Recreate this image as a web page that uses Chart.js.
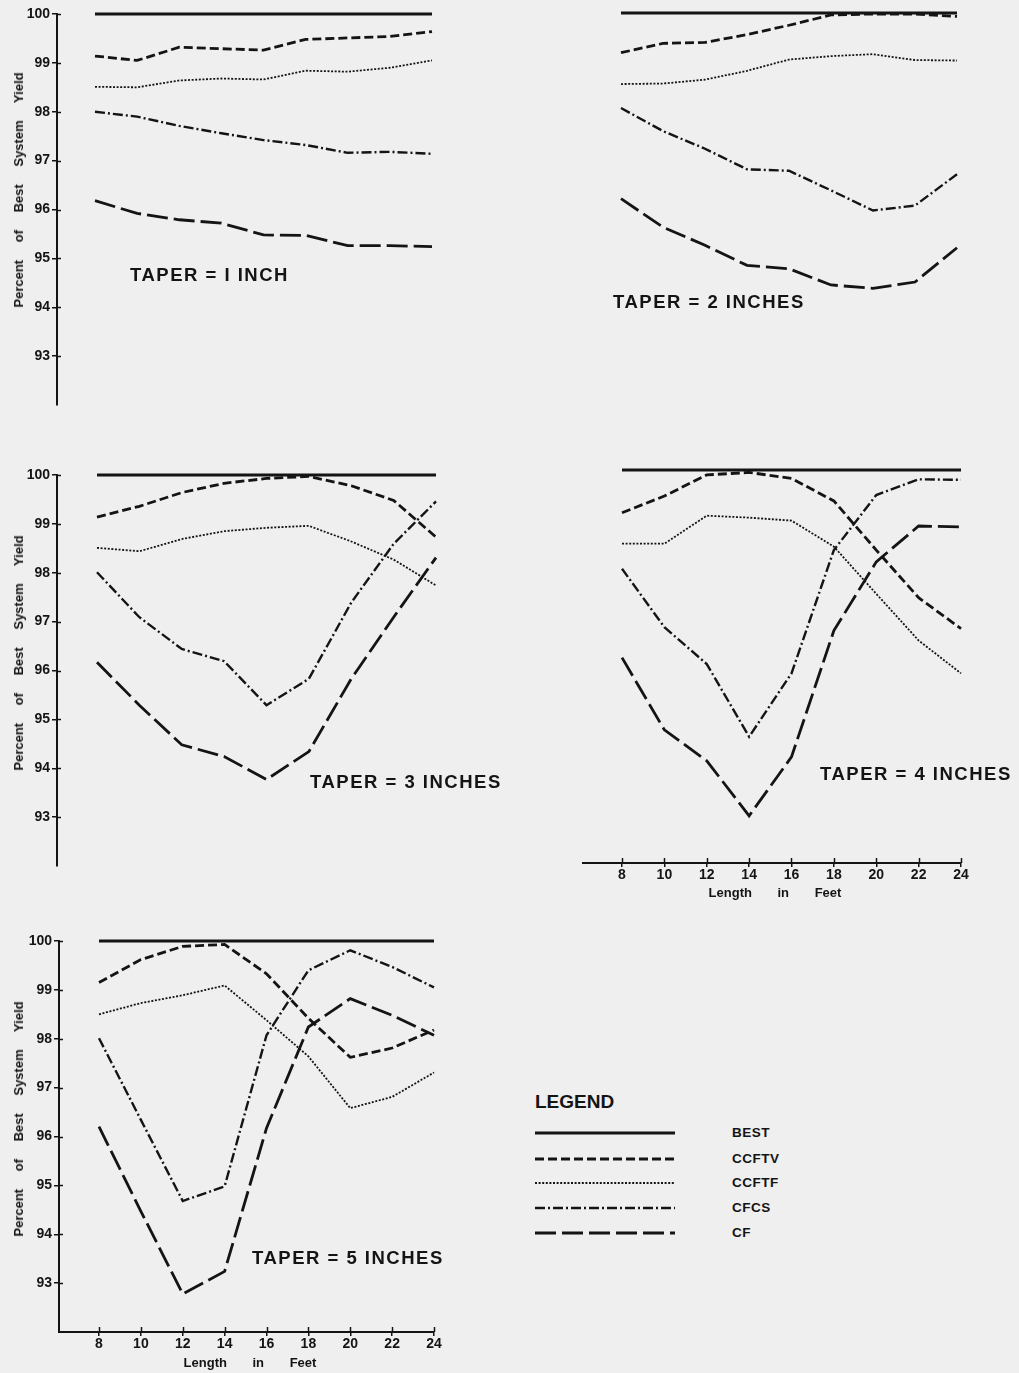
<!DOCTYPE html>
<html>
<head>
<meta charset="utf-8">
<script src="https://cdn.jsdelivr.net/npm/chart.js@4/dist/chart.umd.min.js"></script>
<style>
html,body{margin:0;padding:0;background:#efefef;}
body{width:1019px;height:1373px;position:relative;overflow:hidden;font-family:"Liberation Sans",Arial,sans-serif;font-weight:bold;color:#141414;}
canvas{position:absolute;}
.taper{position:absolute;font-size:18.5px;line-height:20px;letter-spacing:1.5px;white-space:nowrap;}
.ytitle{position:absolute;font-size:13px;line-height:14px;word-spacing:14px;white-space:nowrap;transform:translate(-50%,-50%) rotate(-90deg);}
.xtitle{position:absolute;font-size:13px;line-height:14px;word-spacing:22px;white-space:nowrap;transform:translate(-50%,-50%);}
.legtitle{position:absolute;font-size:19px;line-height:20px;white-space:nowrap;}
.leglab{position:absolute;font-size:13.5px;line-height:14px;letter-spacing:0.5px;white-space:nowrap;transform:translateY(-50%);}
svg{position:absolute;}
</style>
</head>
<body>
<script>
// ---------- DATA ----------
const lengths = [8, 10, 12, 14, 16, 18, 20, 22, 24];
const xTickValues = [8, 10, 12, 14, 16, 18, 20, 22, 24];
const yTickValues = [93, 94, 95, 96, 97, 98, 99, 100];
const seriesNames = ['BEST', 'CCFTV', 'CCFTF', 'CFCS', 'CF'];
const taperLabels = ['TAPER = I INCH', 'TAPER = 2 INCHES', 'TAPER = 3 INCHES', 'TAPER = 4 INCHES', 'TAPER = 5 INCHES'];
const yAxisTitle = 'Percent of Best System Yield';
const xAxisTitle = 'Length in Feet';
const legendTitle = 'LEGEND';

const best = [100, 100, 100, 100, 100, 100, 100, 100, 100];

const t1_ccftv = [99.14, 99.05, 99.32, 99.29, 99.26, 99.48, 99.51, 99.54, 99.64];
const t1_ccftf = [98.51, 98.50, 98.64, 98.68, 98.66, 98.84, 98.82, 98.90, 99.05];
const t1_cfcs  = [98.00, 97.90, 97.71, 97.56, 97.42, 97.32, 97.16, 97.18, 97.14];
const t1_cf    = [96.18, 95.92, 95.79, 95.72, 95.48, 95.47, 95.26, 95.26, 95.24];

const t2_ccftv = [99.19, 99.38, 99.40, 99.56, 99.75, 99.96, 99.98, 99.98, 99.93];
const t2_ccftf = [98.55, 98.56, 98.64, 98.82, 99.05, 99.12, 99.16, 99.04, 99.03];
const t2_cfcs  = [98.06, 97.59, 97.23, 96.81, 96.78, 96.38, 95.97, 96.07, 96.71];
const t2_cf    = [96.21, 95.63, 95.26, 94.85, 94.78, 94.45, 94.38, 94.51, 95.21];

const t3_ccftv = [99.14, 99.36, 99.64, 99.83, 99.93, 99.97, 99.78, 99.48, 98.73];
const t3_ccftf = [98.51, 98.44, 98.69, 98.85, 98.92, 98.96, 98.64, 98.27, 97.74];
const t3_cfcs  = [98.01, 97.09, 96.44, 96.19, 95.29, 95.83, 97.39, 98.59, 99.46];
const t3_cf    = [96.17, 95.29, 94.48, 94.24, 93.77, 94.34, 95.83, 97.09, 98.31];

const t4_ccftv = [99.13, 99.47, 99.90, 99.95, 99.83, 99.37, 98.37, 97.40, 96.77];
const t4_ccftf = [98.50, 98.50, 99.07, 99.03, 98.97, 98.44, 97.48, 96.53, 95.86];
const t4_cfcs  = [97.99, 96.80, 96.05, 94.57, 95.86, 98.37, 99.49, 99.81, 99.80];
const t4_cf    = [96.18, 94.71, 94.08, 92.96, 94.16, 96.73, 98.13, 98.86, 98.84];

const t5_ccftv = [99.15, 99.62, 99.89, 99.93, 99.33, 98.42, 97.62, 97.81, 98.18];
const t5_ccftf = [98.50, 98.73, 98.89, 99.09, 98.38, 97.64, 96.58, 96.81, 97.31];
const t5_cfcs  = [98.01, 96.34, 94.68, 94.98, 98.07, 99.40, 99.81, 99.47, 99.05];
const t5_cf    = [96.20, 94.47, 92.78, 93.24, 96.17, 98.24, 98.82, 98.48, 98.07];

// ---------- STYLE / LAYOUT ----------
const INK = '#141414';
const styles = {
  BEST:  {dash: [],            w: 2.8},
  CCFTV: {dash: [9, 4],        w: 2.8},
  CCFTF: {dash: [2, 1.6],      w: 1.8},
  CFCS:  {dash: [10, 3, 2, 3], w: 2.4},
  CF:    {dash: [21, 6],       w: 2.8}
};

const panels = [
  {series: [best, t1_ccftv, t1_ccftf, t1_cfcs, t1_cf], axisX: 57, px8: 95,  px24: 432, yTop: 14,  yBot: 405,  showY: true,  showX: false,
   label: {x: 130, y: 265}, ytitle: 190},
  {series: [best, t2_ccftv, t2_ccftf, t2_cfcs, t2_cf], axisX: 583, px8: 621, px24: 957, yTop: 13,  yBot: 405,  showY: false, showX: false,
   label: {x: 613, y: 292}},
  {series: [best, t3_ccftv, t3_ccftf, t3_cfcs, t3_cf], axisX: 57, px8: 97,  px24: 436, yTop: 475, yBot: 866,  showY: true,  showX: false,
   label: {x: 310, y: 772}, ytitle: 653},
  {series: [best, t4_ccftv, t4_ccftf, t4_cfcs, t4_cf], axisX: 583, px8: 622, px24: 961, yTop: 470, yBot: 863,  showY: false, showX: true,
   label: {x: 820, y: 764}, xtitle: {x: 775, y: 893}},
  {series: [best, t5_ccftv, t5_ccftf, t5_cfcs, t5_cf], axisX: 59, px8: 99,  px24: 434, yTop: 941, yBot: 1332, showY: true,  showX: true,
   label: {x: 252, y: 1248}, ytitle: 1119, xtitle: {x: 250, y: 1363}}
];

const tickFont = {family: 'Liberation Sans', weight: 'bold', size: 14};

// tick marks that also reach a little inside the axis (as in the drawing)
const innerTicks = {
  id: 'innerTicks',
  afterDraw(chart) {
    const ctx = chart.ctx;
    ctx.save();
    ctx.strokeStyle = INK;
    ctx.lineWidth = 1.5;
    const xs = chart.scales.x, ys = chart.scales.y;
    if (ys.options.display) {
      ys.ticks.forEach(t => {
        const py = Math.round(ys.getPixelForValue(t.value)) + 0.5;
        ctx.beginPath(); ctx.moveTo(chart.chartArea.left, py); ctx.lineTo(chart.chartArea.left + 4, py); ctx.stroke();
      });
    }
    if (xs.options.display) {
      xs.ticks.forEach(t => {
        const px = Math.round(xs.getPixelForValue(t.value)) + 0.5;
        ctx.beginPath(); ctx.moveTo(px, chart.chartArea.bottom); ctx.lineTo(px, chart.chartArea.bottom - 5); ctx.stroke();
      });
    }
    ctx.restore();
  }
};

function addDiv(cls, text, css) {
  const d = document.createElement('div');
  d.className = cls;
  d.textContent = text;
  Object.assign(d.style, css);
  document.body.appendChild(d);
  return d;
}

function makePanel(p, idx) {
  const YW = p.showY ? 55 : 0;
  const XH = p.showX ? 28 : 0;
  const PAD = 12;
  const padL = p.showY ? 0 : PAD;
  const padB = p.showX ? 0 : PAD;
  const cv = document.createElement('canvas');
  const left = p.axisX - YW - padL;
  const top = p.yTop - PAD;
  const w = (p.px24 - p.axisX) + YW + padL + PAD;
  const h = (p.yBot - p.yTop) + PAD + XH + padB;
  cv.width = w; cv.height = h;
  cv.style.left = left + 'px'; cv.style.top = top + 'px';
  cv.style.width = w + 'px'; cv.style.height = h + 'px';
  document.body.appendChild(cv);
  const xmin = 8 - (p.px8 - p.axisX) * 16 / (p.px24 - p.px8);

  new Chart(cv, {
    type: 'line',
    data: {
      datasets: seriesNames.map((n, i) => ({
        label: n,
        data: lengths.map((L, j) => ({x: L, y: p.series[i][j]})),
        borderColor: INK,
        borderWidth: styles[n].w,
        borderDash: styles[n].dash,
        borderCapStyle: 'butt',
        pointRadius: 0,
        tension: 0,
        fill: false,
        clip: false
      }))
    },
    plugins: [innerTicks],
    options: {
      responsive: false,
      animation: false,
      devicePixelRatio: 1,
      layout: {padding: {left: padL, top: PAD, right: PAD, bottom: padB}},
      plugins: {legend: {display: false}, tooltip: {enabled: false}},
      scales: {
        x: {
          type: 'linear', min: xmin, max: 24, display: p.showX,
          afterBuildTicks: s => { s.ticks = xTickValues.map(v => ({value: v})); },
          afterFit: s => { s.height = XH; },
          grid: {drawOnChartArea: false, drawTicks: true, tickLength: 4, color: INK, lineWidth: 1.5},
          border: {color: INK, width: 2},
          ticks: {color: INK, font: tickFont, padding: 0, maxRotation: 0, autoSkip: false}
        },
        y: {
          type: 'linear', min: 92, max: 100, display: p.showY,
          afterBuildTicks: s => { s.ticks = yTickValues.map(v => ({value: v})); },
          afterFit: s => { s.width = YW; },
          grid: {drawOnChartArea: false, drawTicks: true, tickLength: 5, color: INK, lineWidth: 1.5},
          border: {color: INK, width: 2},
          ticks: {color: INK, font: tickFont, padding: 2, autoSkip: false}
        }
      }
    }
  });

  addDiv('taper', taperLabels[idx], {left: p.label.x + 'px', top: p.label.y + 'px'});
  if (p.ytitle) addDiv('ytitle', yAxisTitle, {left: '19px', top: p.ytitle + 'px'});
  if (p.xtitle) addDiv('xtitle', xAxisTitle, {left: p.xtitle.x + 'px', top: p.xtitle.y + 'px'});
}

panels.forEach(makePanel);

// ---------- LEGEND ----------
addDiv('legtitle', legendTitle, {left: '535px', top: '1092px'});
const legY = [1133, 1159, 1183, 1208, 1233];
const svgNS = 'http://www.w3.org/2000/svg';
const svg = document.createElementNS(svgNS, 'svg');
svg.setAttribute('width', '150'); svg.setAttribute('height', '130');
svg.style.left = '530px'; svg.style.top = '1115px';
seriesNames.forEach((n, i) => {
  const ln = document.createElementNS(svgNS, 'line');
  ln.setAttribute('x1', 5); ln.setAttribute('x2', 145);
  ln.setAttribute('y1', legY[i] - 1115); ln.setAttribute('y2', legY[i] - 1115);
  ln.setAttribute('stroke', INK);
  ln.setAttribute('stroke-width', styles[n].w);
  if (styles[n].dash.length) ln.setAttribute('stroke-dasharray', styles[n].dash.join(' '));
  svg.appendChild(ln);
  addDiv('leglab', n, {left: '732px', top: legY[i] + 'px'});
});
document.body.appendChild(svg);
</script>
</body>
</html>
